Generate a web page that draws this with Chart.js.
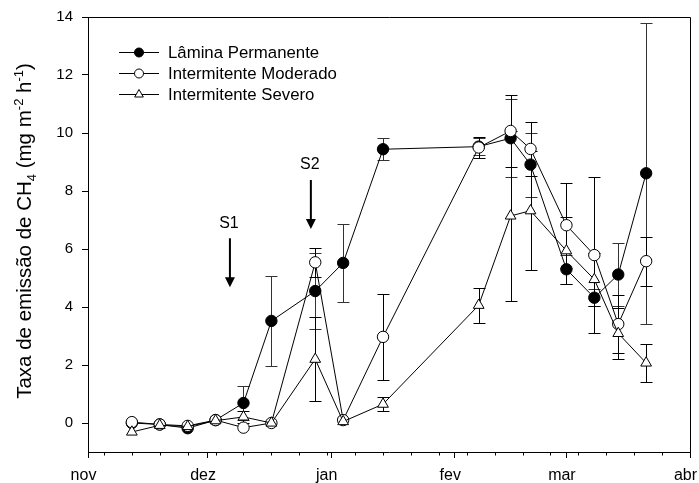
<!DOCTYPE html>
<html>
<head>
<meta charset="utf-8">
<title>Taxa de emissão de CH4</title>
<script src="https://cdn.jsdelivr.net/npm/chart.js@4.4.1/dist/chart.umd.min.js"></script>
<style>
  body { margin: 0; background: #fff; }
  #wrap { width: 699px; height: 483px; }
</style>
</head>
<body>
<div id="wrap"><canvas id="chart" width="699" height="483"></canvas></div>
<script>
// days counted from 1 nov
var days = [11, 18, 25, 32, 39, 46, 57, 64, 74, 98, 106, 111, 120, 127, 133, 140];

var permanente    = [0.0, -0.05, -0.18, 0.1, 0.69, 3.52, 4.55, 5.52, 9.44, 9.53, 9.82, 8.91, 5.3, 4.32, 5.12, 8.61];
var permanenteErr = [0, 0, 0, 0, 0.6, 1.54, 1.3, 1.35, 0.38, 0.3, 1.35, 1.1, 0.5, 0.3, 1.1, 5.18];

var moderado    = [0.03, -0.05, -0.1, 0.1, -0.16, 0.0, 5.54, 0.1, 2.97, 9.5, 10.07, 9.45, 6.82, 5.79, 3.41, 5.58];
var moderadoErr = [0, 0, 0, 0, 0, 0, 0.5, 0, 1.47, 0.35, 1.25, 0.94, 1.47, 2.7, 1.0, 0.85];

var severo    = [-0.31, -0.08, -0.12, 0.08, 0.21, 0.0, 2.2, 0.05, 0.65, 4.06, 7.14, 7.32, 5.94, 4.95, 3.09, 2.07];
var severoErr = [0, 0, 0, 0, 0.2, 0, 1.45, 0, 0.25, 0.6, 2.93, 2.05, 1.15, 0.9, 0.87, 0.65];

var seriesNames = ['Lâmina Permanente', 'Intermitente Moderado', 'Intermitente Severo'];

var monthDays = [0, 30, 61, 92, 120, 151];
var monthLabels = ['nov', 'dez', 'jan', 'fev', 'mar', 'abr'];
var minorDays = [4, 11, 18, 25, 32, 39, 46, 53, 60, 67, 74, 81, 88, 95, 102, 109, 116, 123, 130, 137, 144];
var yTicks = [0, 2, 4, 6, 8, 10, 12, 14];

// S1 / S2 arrows (day, value at arrow tip)
var events = ['S1', 'S2'];
var eventDays = [35.6, 55.9];
var eventTips = [4.68, 6.69];

var FONT = "'Liberation Sans', Arial, Helvetica, sans-serif";
Chart.defaults.font.family = FONT;
Chart.defaults.color = '#000';

function pts(vals) {
    var out = [];
    for (var i = 0; i < days.length; i++) {
        out.push({ x: days[i], y: vals[i] });
    }
    return out;
}

//error bars, behind the markers
var errorBars = {
    id: 'errorBars',
    beforeDatasetsDraw: function (chart) {
        var ctx = chart.ctx, xs = chart.scales.x, ys = chart.scales.y;
        ctx.save();
        chart.data.datasets.forEach(function (ds) {
            ctx.strokeStyle = ds.errColor;
            ctx.lineWidth = 1;
            ds.data.forEach(function (p, i) {
                var e = ds.err[i];
                if (!e) return;
                var x = Math.round(xs.getPixelForValue(p.x)) + 0.5;
                var y1 = Math.round(ys.getPixelForValue(p.y + e)) + 0.5;
                var y2 = Math.round(ys.getPixelForValue(p.y - e)) + 0.5;
                ctx.beginPath();
                ctx.moveTo(x, y1); ctx.lineTo(x, y2);
                ctx.moveTo(x - 6, y1); ctx.lineTo(x + 6, y1);
                ctx.moveTo(x - 6, y2); ctx.lineTo(x + 6, y2);
                ctx.stroke();
            });
        });
        ctx.restore();
    }
};

var decorations = {
    id: 'decorations',
    afterDraw: function (chart) {
        var ctx = chart.ctx, a = chart.chartArea;
        var xs = chart.scales.x, ys = chart.scales.y;
        ctx.save();

        // frame top + right
        ctx.strokeStyle = '#000';
        ctx.lineWidth = 1;
        ctx.beginPath();
        ctx.moveTo(a.left, Math.round(a.top) + 0.5);
        ctx.lineTo(Math.round(a.right) + 0.5, Math.round(a.top) + 0.5);
        ctx.lineTo(Math.round(a.right) + 0.5, a.bottom);
        ctx.stroke();

        // minor ticks on x
        ctx.beginPath();
        minorDays.forEach(function (d) {
            var x = Math.round(xs.getPixelForValue(d)) + 0.5;
            ctx.moveTo(x, a.bottom);
            ctx.lineTo(x, a.bottom + 3.5);
        });
        ctx.stroke();

        // S1 / S2 arrows
        ctx.fillStyle = '#000';
        ctx.font = '16px ' + FONT;
        ctx.textAlign = 'center';
        ctx.textBaseline = 'middle';
        events.forEach(function (name, i) {
            var x = xs.getPixelForValue(eventDays[i]);
            var tip = ys.getPixelForValue(eventTips[i]);
            ctx.lineWidth = 2;
            ctx.beginPath();
            ctx.moveTo(x, tip - 49);
            ctx.lineTo(x, tip - 8);
            ctx.stroke();
            ctx.beginPath();
            ctx.moveTo(x - 5, tip - 10);
            ctx.lineTo(x + 5, tip - 10);
            ctx.lineTo(x, tip);
            ctx.closePath();
            ctx.fill();
            ctx.fillText(name, x - 1, tip - 64);
        });

        // legend
        ctx.lineWidth = 1;
        ctx.font = '16.8px ' + FONT;
        ctx.textAlign = 'left';
        chart.data.datasets.forEach(function (ds, i) {
            var y = 52 + i * 21;
            ctx.strokeStyle = '#000';
            ctx.beginPath();
            ctx.moveTo(119, y + 0.5);
            ctx.lineTo(159, y + 0.5);
            ctx.stroke();
            ctx.fillStyle = ds.pointBackgroundColor;
            Chart.helpers.drawPoint(ctx, {
                pointStyle: ds.pointStyle,
                radius: ds.pointStyle === 'triangle' ? 5 : 4.5,
                rotation: 0,
                borderWidth: 1
            }, 139, y + 0.5);
            ctx.fillStyle = '#000';
            ctx.fillText(ds.label, 168, y + 1);
        });

        // y title with sub / superscripts
        var parts = [
            ['Taxa de emissão de CH', 0], ['4', 1], [' (mg m', 0],
            ['-2', 2], [' h', 0], ['-1', 2], [')', 0]
        ];
        var big = '20.5px ' + FONT, small = '13px ' + FONT;
        var total = 0;
        parts.forEach(function (p) {
            ctx.font = p[1] ? small : big;
            total += ctx.measureText(p[0]).width;
        });
        ctx.translate(31, 231);
        ctx.rotate(-Math.PI / 2);
        ctx.textAlign = 'left';
        ctx.textBaseline = 'alphabetic';
        var cx = -total / 2;
        parts.forEach(function (p) {
            ctx.font = p[1] ? small : big;
            var dy = p[1] === 1 ? 5 : (p[1] === 2 ? -8 : 0);
            ctx.fillText(p[0], cx, dy);
            cx += ctx.measureText(p[0]).width;
        });

        ctx.restore();
    }
};

function lineSet(label, vals, err, style, fill, order, r, errColor) {
    return {
        label: label,
        data: pts(vals),
        err: err,
        errColor: errColor,
        borderColor: '#000',
        borderWidth: 1,
        tension: 0,
        pointStyle: style,
        pointRadius: r,
        pointHoverRadius: r,
        pointBackgroundColor: fill,
        pointBorderColor: '#000',
        pointBorderWidth: 1,
        order: order
    };
}

new Chart(document.getElementById('chart'), {
    type: 'line',
    data: {
        datasets: [
            lineSet(seriesNames[0], permanente, permanenteErr, 'circle', '#000', 3, 5.7, '#333'),
            lineSet(seriesNames[1], moderado, moderadoErr, 'circle', '#fff', 2, 5.7, '#000'),
            lineSet(seriesNames[2], severo, severoErr, 'triangle', '#fff', 1, 6.2, '#000')
        ]
    },
    options: {
        responsive: false,
        animation: false,
        events: [],
        layout: { padding: { top: 17, right: 9, left: 0, bottom: 0 } },
        plugins: {
            legend: { display: false },
            tooltip: { enabled: false }
        },
        scales: {
            x: {
                type: 'linear',
                min: 0,
                max: 151,
                afterBuildTicks: function (s) {
                    s.ticks = monthDays.map(function (v) { return { value: v }; });
                },
                afterFit: function (s) {
                    s.height = 31;
                    s.paddingLeft = 0;
                    s.paddingRight = 0;
                },
                ticks: {
                    autoSkip: false,
                    maxRotation: 0,
                    padding: 8,
                    labelOffset: -4.5,
                    font: { size: 16 },
                    color: '#000',
                    callback: function (v) { return monthLabels[monthDays.indexOf(v)]; }
                },
                grid: { drawOnChartArea: false, tickLength: 6, tickColor: '#000' },
                border: { color: '#000', width: 1 }
            },
            y: {
                min: -1,
                max: 14,
                afterBuildTicks: function (s) {
                    s.ticks = yTicks.map(function (v) { return { value: v }; });
                },
                afterFit: function (s) {
                    s.width = 88;
                    s.paddingTop = 0;
                    s.paddingBottom = 0;
                },
                ticks: {
                    padding: 9,
                    font: { size: 15 },
                    color: '#000'
                },
                grid: { drawOnChartArea: false, tickLength: 6, tickColor: '#000' },
                border: { color: '#000', width: 1 }
            }
        }
    },
    plugins: [errorBars, decorations]
});
</script>
</body>
</html>
